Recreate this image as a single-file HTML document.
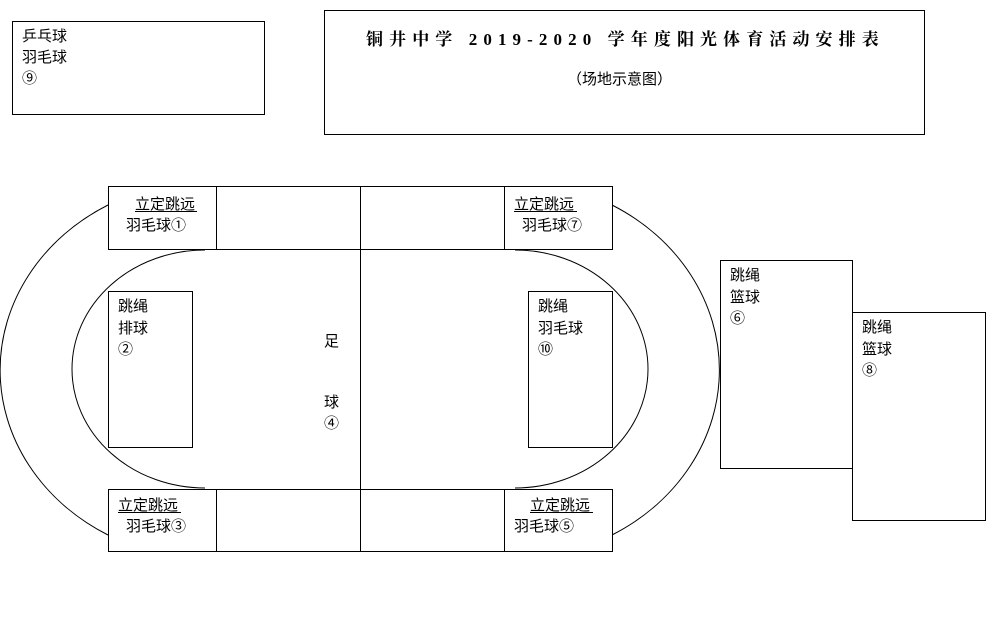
<!DOCTYPE html>
<html><head><meta charset="utf-8"><style>
body{margin:0;background:#fff;width:997px;height:635px;overflow:hidden}
svg text{font-family:"Liberation Sans","Noto Sans CJK SC",sans-serif;font-size:15px;fill:#000}
</style></head><body>
<svg width="997" height="635" xmlns="http://www.w3.org/2000/svg">
<g fill="none" stroke="#000" stroke-width="1">
<path d="M108,205 A214,190 0 0,0 108,535"/>
<path d="M612,205 A213,190 0 0,1 612,535"/>
<path d="M205,250 A133,119 0 0,0 205,488"/>
<path d="M515,250 A133,119 0 0,1 515,488"/>
</g>
<g fill="#fff" stroke="#000" stroke-width="1">
<rect x="12.5" y="21.5" width="252" height="93"/>
<rect x="324.5" y="10.5" width="600" height="124"/>
<rect x="108.5" y="186.5" width="504" height="63"/>
<rect x="108.5" y="489.5" width="504" height="62"/>
<rect x="108.5" y="291.5" width="84" height="156"/>
<rect x="528.5" y="291.5" width="84" height="156"/>
<rect x="720.5" y="260.5" width="132" height="208"/>
<rect x="852.5" y="312.5" width="133" height="208"/>
</g>
<g stroke="#000" stroke-width="1">
<line x1="216.5" y1="186" x2="216.5" y2="250"/>
<line x1="504.5" y1="186" x2="504.5" y2="250"/>
<line x1="216.5" y1="489" x2="216.5" y2="552"/>
<line x1="504.5" y1="489" x2="504.5" y2="552"/>
<line x1="360.5" y1="186" x2="360.5" y2="552"/>
<line x1="135" y1="211.5" x2="197" y2="211.5"/>
<line x1="118" y1="512.5" x2="181" y2="512.5"/>
<line x1="514" y1="211.5" x2="577" y2="211.5"/>
<line x1="530" y1="512.5" x2="593" y2="512.5"/>
</g>
<text x="22" y="41">乒乓球</text><text x="22" y="62">羽毛球</text><text x="22" y="83">⑨</text>
<text x="366" y="45" style="font-weight:bold;font-size:17px;letter-spacing:6.1px;font-family:'Liberation Serif','Noto Serif CJK SC',serif">铜井中学 2019-2020 学年度阳光体育活动安排表</text>
<text x="567" y="84">（场地示意图）</text>
<text x="135" y="209">立定跳远</text><text x="126" y="230">羽毛球①</text>
<text x="514" y="209">立定跳远</text><text x="522" y="230">羽毛球⑦</text>
<text x="118" y="510">立定跳远</text><text x="126" y="531">羽毛球③</text>
<text x="530" y="510">立定跳远</text><text x="514" y="531">羽毛球⑤</text>
<text x="118" y="311">跳绳</text><text x="118" y="333">排球</text><text x="118" y="354">②</text>
<text x="538" y="311">跳绳</text><text x="538" y="333">羽毛球</text><text x="538" y="354">⑩</text>
<text x="324" y="346">足</text><text x="324" y="407">球</text><text x="324" y="428">④</text>
<text x="730" y="280">跳绳</text><text x="730" y="302">篮球</text><text x="730" y="323">⑥</text>
<text x="862" y="332">跳绳</text><text x="862" y="354">篮球</text><text x="862" y="375">⑧</text>
</svg>
</body></html>
